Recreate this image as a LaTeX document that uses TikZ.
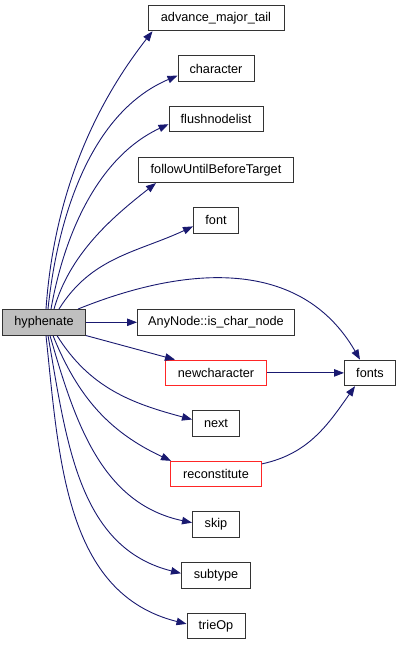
\documentclass[tikz,border=0pt]{standalone}
\usepackage{fontspec}
\setmainfont{Liberation Sans}
\usetikzlibrary{arrows.meta, positioning}

\definecolor{edgeblue}{HTML}{191970}
\definecolor{boxgray}{HTML}{BFBFBF}

\begin{document}
\begin{tikzpicture}[
      x=1pt, y=1pt,
      node distance = 24.1pt and 51pt,
      fn/.style = {draw=black!80, line width=1pt, fill=white, inner sep=0pt,
                   minimum height=25.5pt, font=\fontsize{12.7}{15}\selectfont},
      redfn/.style = {fn, draw=red!85},
      curfn/.style = {fn, fill=boxgray},
      call/.style = {->, draw=edgeblue, line width=0.9pt},
      >={Triangle[length=10pt,width=7.5pt]}
    ]
    \useasboundingbox (0,0) rectangle (401,645);
    % callees, one column
    \node[fn, minimum width=136pt] (adv) at (216,627) {advance\_major\_tail};
    \node[fn, minimum width=76pt, below=of adv]    (chr)    {character};
    \node[fn, minimum width=94pt, below=of chr]    (flush)  {flushnodelist};
    \node[fn, minimum width=155pt, below=of flush] (follow) {followUntilBeforeTarget};
    \node[fn, minimum width=45pt, below=of follow] (font)   {font};
    \node[fn, minimum width=157pt, below=75.4pt of font] (anyn) {AnyNode::is\_char\_node};
    \node[redfn, minimum width=101pt, below=of anyn] (newc) {newcharacter};
    \node[fn, minimum width=47pt, below=of newc]   (nxt)    {next};
    \node[redfn, minimum width=91pt, below=of nxt] (recon)  {reconstitute};
    \node[fn, minimum width=47pt, below=of recon]  (skp)    {skip};
    \node[fn, minimum width=69pt, below=of skp]    (subt)   {subtype};
    \node[fn, minimum width=58pt, below=of subt]   (trie)   {trieOp};
    % caller and shared callee
    \node[curfn, minimum width=83pt, left=of anyn] (hyph)  {hyphenate};
    \node[fn, minimum width=51pt, right=77pt of newc] (fonts) {fonts};
    % calls upward
    \draw[call] ([xshift=2pt]hyph.north)  to[out=86, in=232, looseness=0.9] ([xshift=5pt]adv.south west);
    \draw[call] ([xshift=4pt]hyph.north)  to[out=84, in=203, looseness=0.9] ([yshift=-7pt]chr.west);
    \draw[call] ([xshift=7pt]hyph.north)  to[out=80, in=205, looseness=0.9] ([yshift=-5pt]flush.west);
    \draw[call] ([xshift=10pt]hyph.north) to[out=74, in=218, looseness=0.9] ([xshift=18pt]follow.south west);
    \draw[call] ([xshift=15pt]hyph.north) to[out=58, in=205] ([yshift=-6pt]font.west);
    \draw[call] ([xshift=34pt]hyph.north) to[out=22, in=120, looseness=1.05] ([xshift=-10pt]fonts.north);
    \draw[call] (hyph) -- (anyn);
    % calls downward
    \draw[call] (hyph.south east) -- ([xshift=10pt]newc.north west);
    \draw[call] ([xshift=13pt]hyph.south) to[out=-58, in=165] ([yshift=4pt]nxt.west);
    \draw[call] ([xshift=9pt]hyph.south)  to[out=-68, in=155] ([xshift=1pt]recon.north west);
    \draw[call] ([xshift=6pt]hyph.south)  to[out=-74, in=168] ([yshift=2pt]skp.west);
    \draw[call] ([xshift=4pt]hyph.south)  to[out=-80, in=166] ([yshift=2pt]subt.west);
    \draw[call] ([xshift=2pt]hyph.south)  to[out=-84, in=166] ([yshift=2pt]trie.west);
    % into fonts
    \draw[call] (newc) -- (fonts);
    \draw[call] ([yshift=-3pt]recon.north east) to[out=12, in=235] ([xshift=-15pt]fonts.south);
  \end{tikzpicture}
\end{document}
